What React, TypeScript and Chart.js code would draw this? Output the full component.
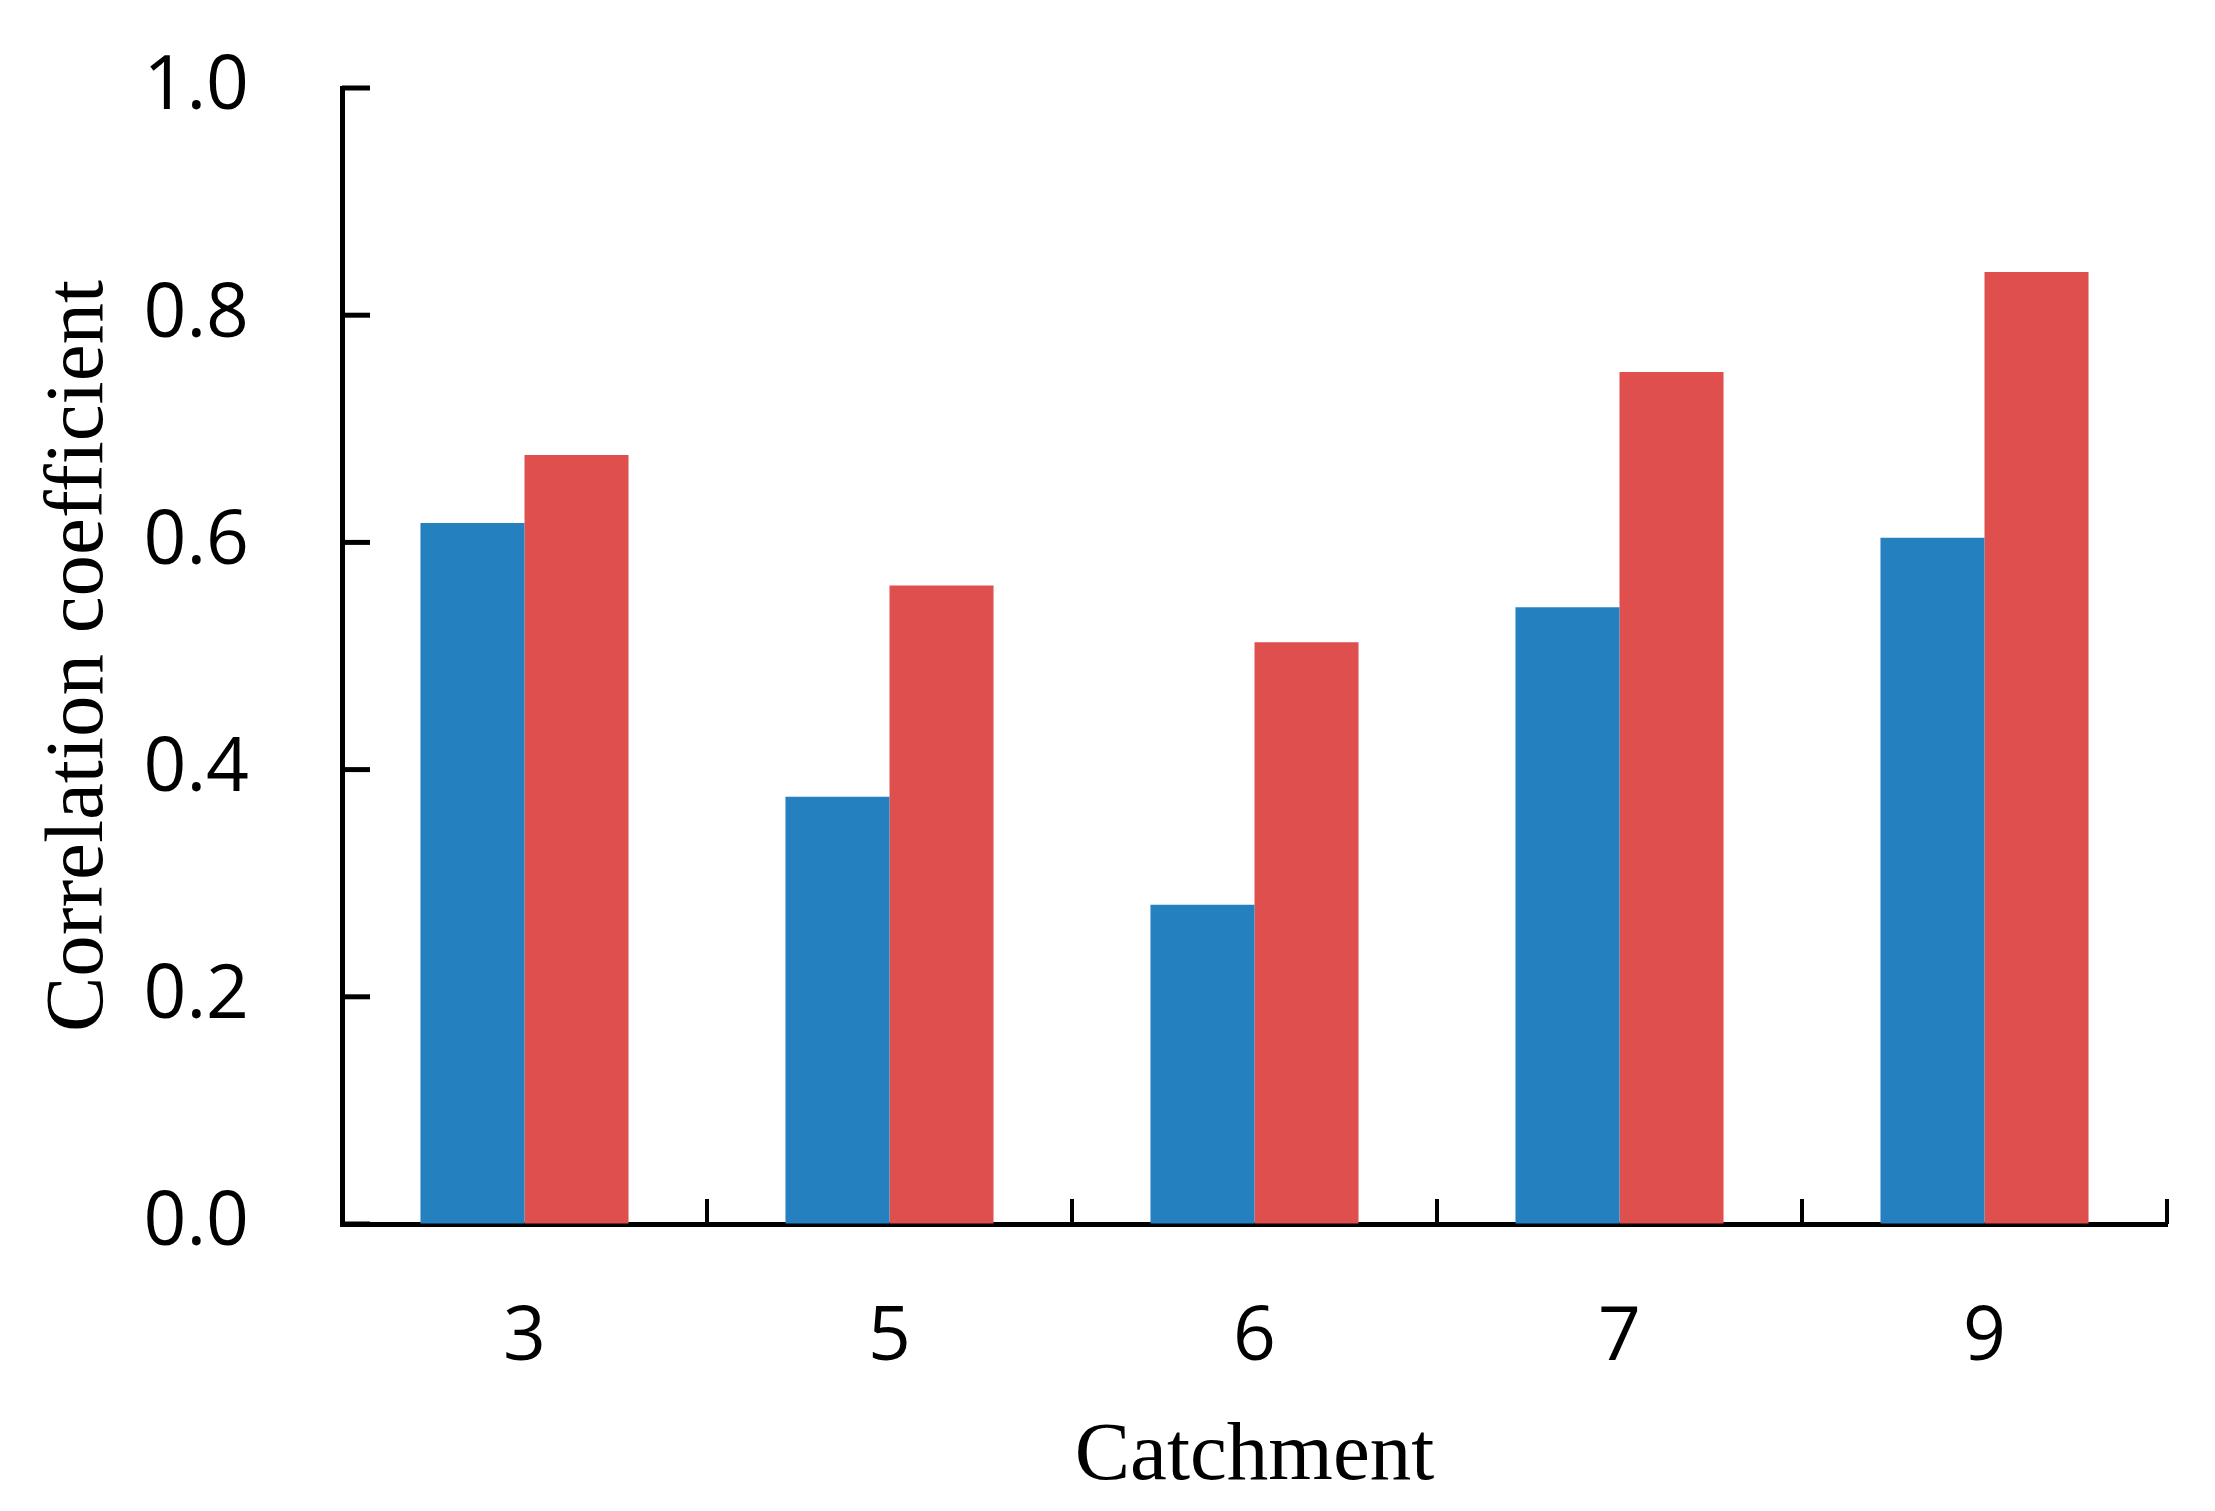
import React, { useEffect, useRef } from 'react';
import { Chart, registerables } from 'chart.js';

Chart.register(...registerables);

const catchments = ['3', '5', '6', '7', '9'];
const blueValues = [0.617, 0.376, 0.281, 0.543, 0.604];
const redValues = [0.677, 0.562, 0.512, 0.75, 0.838];
const yTickValues = [0, 0.2, 0.4, 0.6, 0.8, 1.0];

// draws the short inward tick marks on both axes
const innerTicks = {
  id: 'innerTicks',
  afterDraw(chart: any) {
    const { ctx, scales } = chart;
    const x = scales.x;
    const y = scales.y;
    ctx.save();
    ctx.strokeStyle = '#000';
    ctx.lineCap = 'butt';

    ctx.lineWidth = 5;
    yTickValues.forEach((v) => {
      const py = y.getPixelForValue(v);
      ctx.beginPath();
      ctx.moveTo(x.left, py);
      ctx.lineTo(x.left + 28, py);
      ctx.stroke();
    });

    ctx.lineWidth = 4;
    for (let i = 0; i <= catchments.length; i++) {
      const px = x.getPixelForValue(i - 0.5);
      ctx.beginPath();
      ctx.moveTo(px, y.bottom);
      ctx.lineTo(px, y.bottom - 25);
      ctx.stroke();
    }
    ctx.restore();
  },
};

const App: React.FC = () => {
  const chartRef = useRef<HTMLCanvasElement>(null);
  const chartInstanceRef = useRef<Chart | null>(null);

  useEffect(() => {
    if (!chartRef.current) return;
    const ctx = chartRef.current.getContext('2d');
    if (!ctx) return;
    if (chartInstanceRef.current) chartInstanceRef.current.destroy();

    chartInstanceRef.current = new Chart(ctx, {
      type: 'bar',
      data: {
        labels: catchments,
        datasets: [
          {
            label: 'Series 1',
            data: blueValues,
            backgroundColor: '#2580BF',
            borderWidth: 0,
          },
          {
            label: 'Series 2',
            data: redValues,
            backgroundColor: '#DE4F4E',
            borderWidth: 0,
          },
        ],
      },
      options: {
        responsive: true,
        maintainAspectRatio: false,
        animation: false,
        datasets: {
          bar: {
            categoryPercentage: 0.57,
            barPercentage: 1.0,
          },
        },
        layout: {
          padding: { top: 88, right: 48, bottom: 0, left: 0 },
        },
        plugins: {
          legend: { display: false },
          tooltip: { enabled: false },
        },
        scales: {
          x: {
            offset: true,
            grid: { display: false, drawTicks: false },
            border: { display: true, color: '#000', width: 5 },
            ticks: {
              color: '#000',
              padding: 70,
              font: { family: '"Open Sans"', size: 75 },
            },
            title: {
              display: true,
              text: 'Catchment',
              color: '#000',
              font: { family: '"Liberation Serif"', size: 83 },
              padding: { top: 0, bottom: 4 },
            },
            afterFit: (scale: any) => {
              scale.height = 1511 - 1224;
            },
          },
          y: {
            min: 0,
            max: 1.0,
            // invisible tick marks give the gap between labels and axis
            grid: {
              display: true,
              drawOnChartArea: false,
              drawTicks: true,
              tickLength: 93,
              tickColor: 'rgba(0,0,0,0)',
            },
            border: { display: true, color: '#000', width: 5 },
            ticks: {
              stepSize: 0.2,
              color: '#000',
              padding: 0,
              font: { family: '"Open Sans"', size: 75 },
              callback: (value: any) => Number(value).toFixed(1),
            },
            title: {
              display: true,
              text: 'Correlation coefficient',
              color: '#000',
              font: { family: '"Liberation Serif"', size: 83 },
              padding: { top: 30, bottom: 0 },
            },
            afterFit: (scale: any) => {
              scale.width = 342;
            },
          },
        },
      },
      plugins: [innerTicks],
    });

    return () => {
      if (chartInstanceRef.current) {
        chartInstanceRef.current.destroy();
        chartInstanceRef.current = null;
      }
    };
  }, []);

  return (
    <div style={{ position: 'absolute', left: 0, top: 0, width: 2215, height: 1511, background: '#fff' }}>
      <canvas ref={chartRef}></canvas>
    </div>
  );
};

export default App;
